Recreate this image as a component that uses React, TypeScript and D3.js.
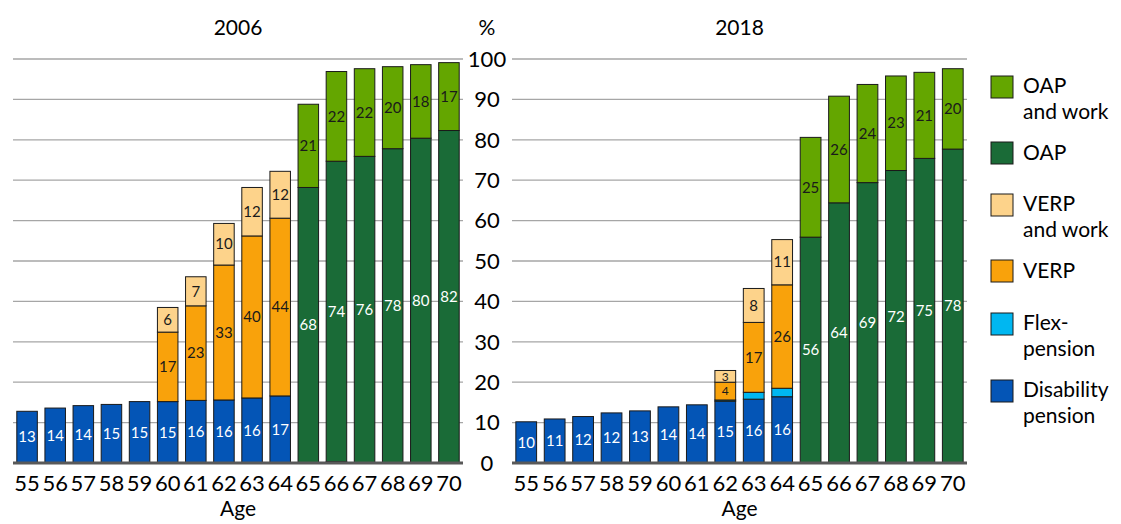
import React from "react";
import * as d3 from "d3";

const ages = [55, 56, 57, 58, 59, 60, 61, 62, 63, 64, 65, 66, 67, 68, 69, 70];
const yTicks = [0, 10, 20, 30, 40, 50, 60, 70, 80, 90, 100];

const disability2006 = [12.8, 13.6, 14.2, 14.5, 15.2, 15.2, 15.5, 15.6, 16.1, 16.6, 0, 0.3, 0, 0, 0, 0];
const flex2006 = [0, 0, 0, 0, 0, 0, 0, 0, 0, 0, 0, 0, 0, 0, 0, 0];
const verp2006 = [0, 0, 0, 0, 0, 17.2, 23.4, 33.4, 40.1, 44.0, 0, 0, 0, 0, 0, 0];
const verpWork2006 = [0, 0, 0, 0, 0, 6.1, 7.2, 10.3, 12.0, 11.6, 0, 0, 0, 0, 0, 0];
const oap2006 = [0, 0, 0, 0, 0, 0, 0, 0, 0, 0, 68.2, 74.4, 75.9, 77.8, 80.4, 82.3];
const oapWork2006 = [0, 0, 0, 0, 0, 0, 0, 0, 0, 0, 20.6, 22.2, 21.7, 20.3, 18.2, 16.8];

const disability2018 = [10.2, 10.9, 11.5, 12.4, 12.9, 13.9, 14.4, 15.3, 15.8, 16.4, 0, 0, 0, 0, 0, 0];
const flex2018 = [0, 0, 0, 0, 0, 0, 0, 0.3, 1.7, 2.1, 0, 0, 0, 0, 0, 0];
const verp2018 = [0, 0, 0, 0, 0, 0, 0, 4.4, 17.3, 25.6, 0, 0, 0, 0, 0, 0];
const verpWork2018 = [0, 0, 0, 0, 0, 0, 0, 2.9, 8.4, 11.2, 0, 0, 0, 0, 0, 0];
const oap2018 = [0, 0, 0, 0, 0, 0, 0, 0, 0, 0, 55.9, 64.4, 69.4, 72.4, 75.4, 77.7];
const oapWork2018 = [0, 0, 0, 0, 0, 0, 0, 0, 0, 0, 24.7, 26.4, 24.3, 23.4, 21.3, 19.9];

const seriesKeys = ["disability", "flex", "verp", "verpWork", "oap", "oapWork"];
const colors: Record<string, string> = {
  disability: "#0455b6",
  flex: "#00b7f1",
  verp: "#f9a20b",
  verpWork: "#fdd38b",
  oap: "#1a6b37",
  oapWork: "#64a600",
};
const labelColors: Record<string, string> = {
  disability: "#ffffff",
  flex: "#000000",
  verp: "#1a1a1a",
  verpWork: "#1a1a1a",
  oap: "#ffffff",
  oapWork: "#1a1a1a",
};
const legendItems = [
  { key: "oapWork", lines: ["OAP", "and work"] },
  { key: "oap", lines: ["OAP"] },
  { key: "verpWork", lines: ["VERP", "and work"] },
  { key: "verp", lines: ["VERP"] },
  { key: "flex", lines: ["Flex-", "pension"] },
  { key: "disability", lines: ["Disability", "pension"] },
];
const legendY = [87, 153, 205, 271, 324, 391];

const FONT = "Lato, 'Open Sans', sans-serif";

function buildRows(d: number[], f: number[], v: number[], vw: number[], o: number[], ow: number[]) {
  return ages.map((age, i) => ({
    age,
    disability: d[i],
    flex: f[i],
    verp: v[i],
    verpWork: vw[i],
    oap: o[i],
    oapWork: ow[i],
  }));
}

const panels = [
  { title: "2006", x0: 13, x1: 463, rows: buildRows(disability2006, flex2006, verp2006, verpWork2006, oap2006, oapWork2006) },
  { title: "2018", x0: 512, x1: 967, rows: buildRows(disability2018, flex2018, verp2018, verpWork2018, oap2018, oapWork2018) },
];

const y = d3.scaleLinear().domain([0, 100]).range([463, 59]);

function Panel({ title, x0, x1, rows }: any) {
  const x = d3
    .scaleBand<number>()
    .domain(ages)
    .range([x0, x1])
    .paddingInner(0.27)
    .paddingOuter(0.135);
  const stacked = d3.stack<any>().keys(seriesKeys)(rows);
  const cx = (x0 + x1) / 2;
  return (
    <g>
      {yTicks.slice(1).map((t) => (
        <line key={t} x1={x0} x2={x1} y1={y(t)} y2={y(t)} stroke="#a6a6a6" strokeWidth={1.3} />
      ))}
      {stacked.map((s) => (
        <g key={s.key}>
          {s.map((d, i) =>
            d[1] - d[0] > 0 ? (
              <rect
                key={i}
                x={x(ages[i])}
                width={x.bandwidth()}
                y={y(d[1])}
                height={y(d[0]) - y(d[1])}
                fill={colors[s.key]}
                stroke="#1a1a1a"
                strokeWidth={1}
              />
            ) : null
          )}
        </g>
      ))}
      {stacked.map((s) => (
        <g key={"l" + s.key}>
          {s.map((d, i) => {
            const v = d[1] - d[0];
            return v >= 2.5 ? (
              <text
                key={i}
                x={(x(ages[i]) as number) + x.bandwidth() / 2}
                y={(y(d[0]) + y(d[1])) / 2}
                dy="0.35em"
                textAnchor="middle"
                fontSize={v < 5 ? 12 : 15}
                fontFamily={FONT}
                fill={labelColors[s.key]}
              >
                {Math.round(v + 1e-6)}
              </text>
            ) : null;
          })}
        </g>
      ))}
      <line x1={x0} x2={x1} y1={y(0)} y2={y(0)} stroke="#595959" strokeWidth={3} />
      {ages.map((a) => (
        <text
          key={a}
          x={(x(a) as number) + x.bandwidth() / 2}
          y={483}
          dy="0.35em"
          textAnchor="middle"
          fontSize={22}
          fontFamily={FONT}
          fill="#000"
        >
          {a}
        </text>
      ))}
      <text x={cx} y={509} dy="0.35em" textAnchor="middle" fontSize={21} fontFamily={FONT} fill="#000">
        Age
      </text>
      <text x={cx} y={28} dy="0.35em" textAnchor="middle" fontSize={21} fontFamily={FONT} fill="#000">
        {title}
      </text>
    </g>
  );
}

export default function App() {
  return (
    <svg
      width={1121}
      height={524}
      style={{ position: "absolute", left: 0, top: 0, background: "#fff" }}
    >
      <rect x={0} y={0} width={1121} height={524} fill="#fff" />
      {panels.map((p) => (
        <Panel key={p.title} {...p} />
      ))}
      {yTicks.map((t) => (
        <text key={t} x={487} y={y(t)} dy="0.35em" textAnchor="middle" fontSize={22} fontFamily={FONT} fill="#000">
          {t}
        </text>
      ))}
      <text x={487} y={28} dy="0.35em" textAnchor="middle" fontSize={21} fontFamily={FONT} fill="#000">
        %
      </text>
      {legendItems.map((item, i) => {
        const cy = legendY[i];
        const n = item.lines.length;
        return (
          <g key={item.key}>
            <rect x={991} y={cy - 11} width={22} height={22} fill={colors[item.key]} stroke="#1a1a1a" strokeWidth={1} />
            {item.lines.map((ln, j) => (
              <text
                key={j}
                x={1023}
                y={cy + j * 26 - (n > 1 ? 1 : 0)}
                dy="0.35em"
                fontSize={21}
                fontFamily={FONT}
                fill="#000"
              >
                {ln}
              </text>
            ))}
          </g>
        );
      })}
    </svg>
  );
}
